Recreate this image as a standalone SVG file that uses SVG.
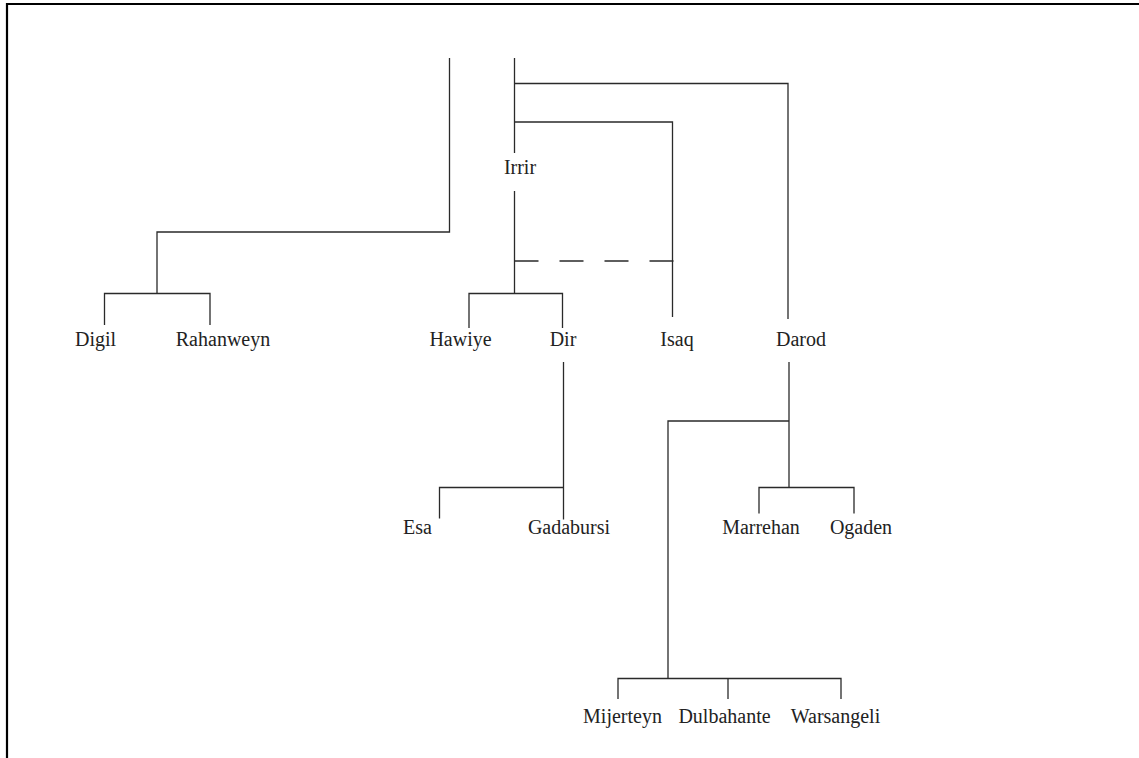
<svg xmlns="http://www.w3.org/2000/svg" width="1139" height="758" viewBox="0 0 1139 758">
<style>
.c{fill:none;stroke:#2a2a2a;stroke-width:1.3}
.d{stroke-dasharray:24 21}
.frame{fill:none;stroke:#000;stroke-width:2.2}
text{font-family:"Liberation Serif","Times New Roman",serif;font-size:20px;fill:#222;text-anchor:middle}
</style>
<rect width="1139" height="758" fill="#fff"/>
<path class="frame" d="M7 758 V4 H1139"/>
<g id="connectors">
<path class="c" d="M449.5 58 V232 H157 V293.5"/>
<path class="c" d="M104.5 325 V293.5 H210 V325"/>
<path class="c" d="M514.5 58 V153"/>
<path class="c" d="M514.5 83.5 H788 V319"/>
<path class="c" d="M514.5 122 H672.5 V317"/>
<path class="c" d="M514.5 191 V293.5"/>
<path class="c d" d="M514.5 261 H674"/>
<path class="c" d="M469 328 V293.5 H562.5 V328"/>
<path class="c" d="M563.5 362 V519.5"/>
<path class="c" d="M439.5 518.5 V487.5 H563.5"/>
<path class="c" d="M789 362 V487.5"/>
<path class="c" d="M759 513.5 V487.5 H854 V513.5"/>
<path class="c" d="M789 421 H668 V678.5"/>
<path class="c" d="M618 699 V678.5 H841 V699"/>
<path class="c" d="M728 678.5 V699"/>
</g>
<g id="irrir"><text x="520" y="174">Irrir</text></g>
<g id="digil"><text x="95.5" y="346">Digil</text></g>
<g id="rahanweyn"><text x="223" y="346">Rahanweyn</text></g>
<g id="hawiye"><text x="460.5" y="346">Hawiye</text></g>
<g id="dir"><text x="563" y="346">Dir</text></g>
<g id="isaq"><text x="677" y="346">Isaq</text></g>
<g id="darod"><text x="801" y="346">Darod</text></g>
<g id="esa"><text x="417.5" y="534">Esa</text></g>
<g id="gadabursi"><text x="569" y="534">Gadabursi</text></g>
<g id="marrehan"><text x="761" y="534">Marrehan</text></g>
<g id="ogaden"><text x="861" y="534">Ogaden</text></g>
<g id="mijerteyn"><text x="622.5" y="723">Mijerteyn</text></g>
<g id="dulbahante"><text x="724.5" y="723">Dulbahante</text></g>
<g id="warsangeli"><text x="835.5" y="723">Warsangeli</text></g>
</svg>
